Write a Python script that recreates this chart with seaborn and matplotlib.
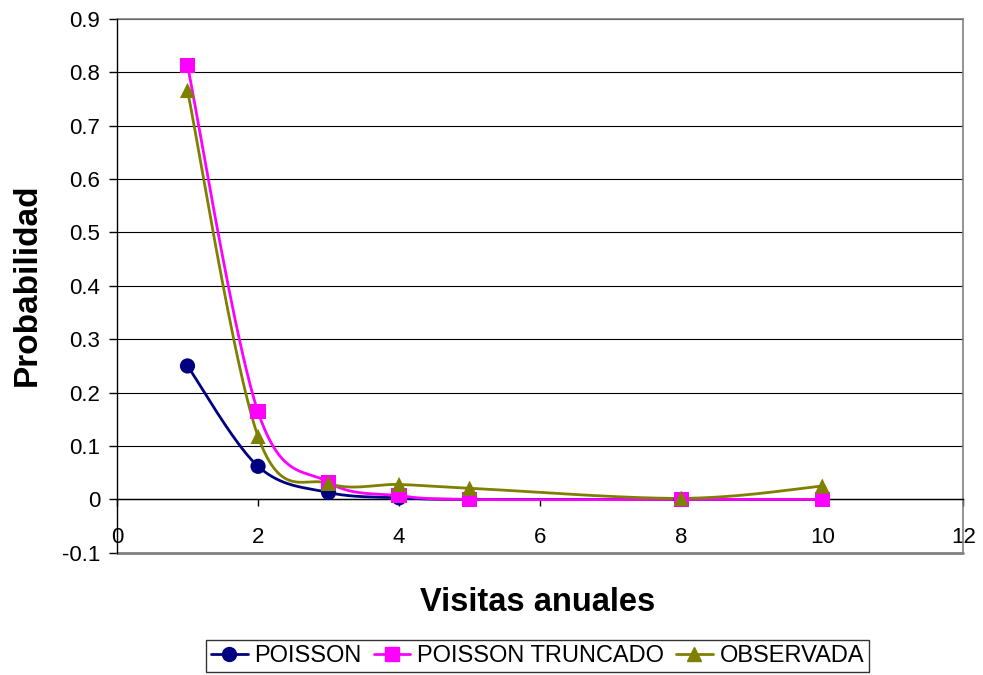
import numpy as np
import pandas as pd
import matplotlib
matplotlib.use("Agg")
import matplotlib.pyplot as plt
from matplotlib.lines import Line2D
from matplotlib.ticker import FuncFormatter
import seaborn as sns

# Annual visits and probability of each count
visitas = [1, 2, 3, 4, 5, 8, 10]
poisson = [0.250, 0.062, 0.013, 0.003, 0.000, 0.000, 0.000]
poisson_truncado = [0.813, 0.164, 0.032, 0.007, 0.000, 0.000, 0.000]
observada = [0.766, 0.118, 0.030, 0.028, 0.021, 0.002, 0.025]

series_names = ["POISSON", "POISSON TRUNCADO", "OBSERVADA"]
series_values = [poisson, poisson_truncado, observada]
colors = ["#000080", "#FF00FF", "#808000"]
markers = ["o", "s", "^"]

x_ticks = [0, 2, 4, 6, 8, 10, 12]
y_ticks = [-0.1, 0, 0.1, 0.2, 0.3, 0.4, 0.5, 0.6, 0.7, 0.8, 0.9]


def smooth_curve(xs, ys, steps=40):
    """Cardinal Bezier smoothing through every point (spreadsheet-style)."""
    p = np.column_stack([xs, ys]).astype(float)
    n = len(p)
    out = []
    for i in range(n - 1):
        p0 = p[i - 1] if i > 0 else p[i]
        p1, p2 = p[i], p[i + 1]
        p3 = p[i + 2] if i + 2 < n else p[i + 1]
        c1 = p1 + (p2 - p0) / 6.0
        c2 = p2 - (p3 - p1) / 6.0
        t = np.linspace(0, 1, steps)[:, None]
        seg = ((1 - t) ** 3) * p1 + 3 * ((1 - t) ** 2) * t * c1 \
            + 3 * (1 - t) * t ** 2 * c2 + t ** 3 * p2
        out.append(seg if i == 0 else seg[1:])
    s = np.vstack(out)
    return s[:, 0], s[:, 1]


sns.set_theme(style="white")
plt.rcParams["font.family"] = ["Liberation Sans", "DejaVu Sans"]
plt.rcParams["text.color"] = "black"
plt.rcParams["xtick.color"] = "black"
plt.rcParams["ytick.color"] = "black"

fig = plt.figure(figsize=(9.83, 6.75), dpi=100)
ax = fig.add_axes([0.119, 0.181, 0.861, 0.791])

for name, vals, c, m in zip(series_names, series_values, colors, markers):
    sx, sy = smooth_curve(visitas, vals)
    curve = pd.DataFrame({"x": sx, "y": sy})
    sns.lineplot(data=curve, x="x", y="y", color=c, lw=2, sort=False,
                 estimator=None, ax=ax, zorder=3)
    pts = pd.DataFrame({"x": visitas, "y": vals})
    sns.scatterplot(data=pts, x="x", y="y", color=c, marker=m, s=120,
                    edgecolor="none", linewidth=0, ax=ax, zorder=4)

ax.set_xlim(0, 12)
ax.set_ylim(-0.1, 0.9)
ax.set_xticks(x_ticks)
ax.set_yticks(y_ticks)
ax.xaxis.set_major_formatter(FuncFormatter(lambda v, _: f"{v:g}"))
ax.yaxis.set_major_formatter(FuncFormatter(lambda v, _: "0" if abs(v) < 1e-9 else f"{v:.1f}"))

ax.grid(axis="y", color="black", lw=0.8)
ax.grid(axis="x", visible=False)

# gray plot-area frame, black value axis and category axis at zero
for side in ["top", "right"]:
    ax.spines[side].set_visible(True)
    ax.spines[side].set_color("#808080")
    ax.spines[side].set_linewidth(1.2)
ax.axhline(-0.1, color="#808080", lw=2, clip_on=False, zorder=2)
ax.spines["bottom"].set_position(("data", 0))
ax.spines["bottom"].set_color("black")
ax.spines["bottom"].set_linewidth(1)
ax.spines["left"].set_color("black")
ax.spines["left"].set_linewidth(1)
ax.spines["left"].set_zorder(5)

ax.tick_params(axis="x", direction="out", length=5, width=1, color="black",
               labelsize=16, pad=15, bottom=True)
ax.tick_params(axis="y", direction="out", length=6, width=1, color="black",
               labelsize=16, pad=6, left=True)

ax.set_xlabel("")
ax.set_ylabel("")
fig.text(0.547, 0.107, "Visitas anuales", ha="center", va="center",
         fontsize=23.5, fontweight="bold")
fig.text(0.028, 0.578, "Probabilidad", ha="center", va="center",
         fontsize=24, fontweight="bold", rotation=90)

handles = [Line2D([], [], color=c, marker=m, lw=2, markersize=10)
           for c, m in zip(colors, markers)]
leg = fig.legend(handles, series_names, loc="center", ncol=3,
                 bbox_to_anchor=(0.547, 0.028), fontsize=17, frameon=True,
                 fancybox=False, edgecolor="black", handlelength=1.55,
                 handletextpad=0.3, columnspacing=0.5, borderpad=0.2,
                 borderaxespad=0)
leg.get_frame().set_linewidth(1)

fig.savefig("out.png", dpi=100)
